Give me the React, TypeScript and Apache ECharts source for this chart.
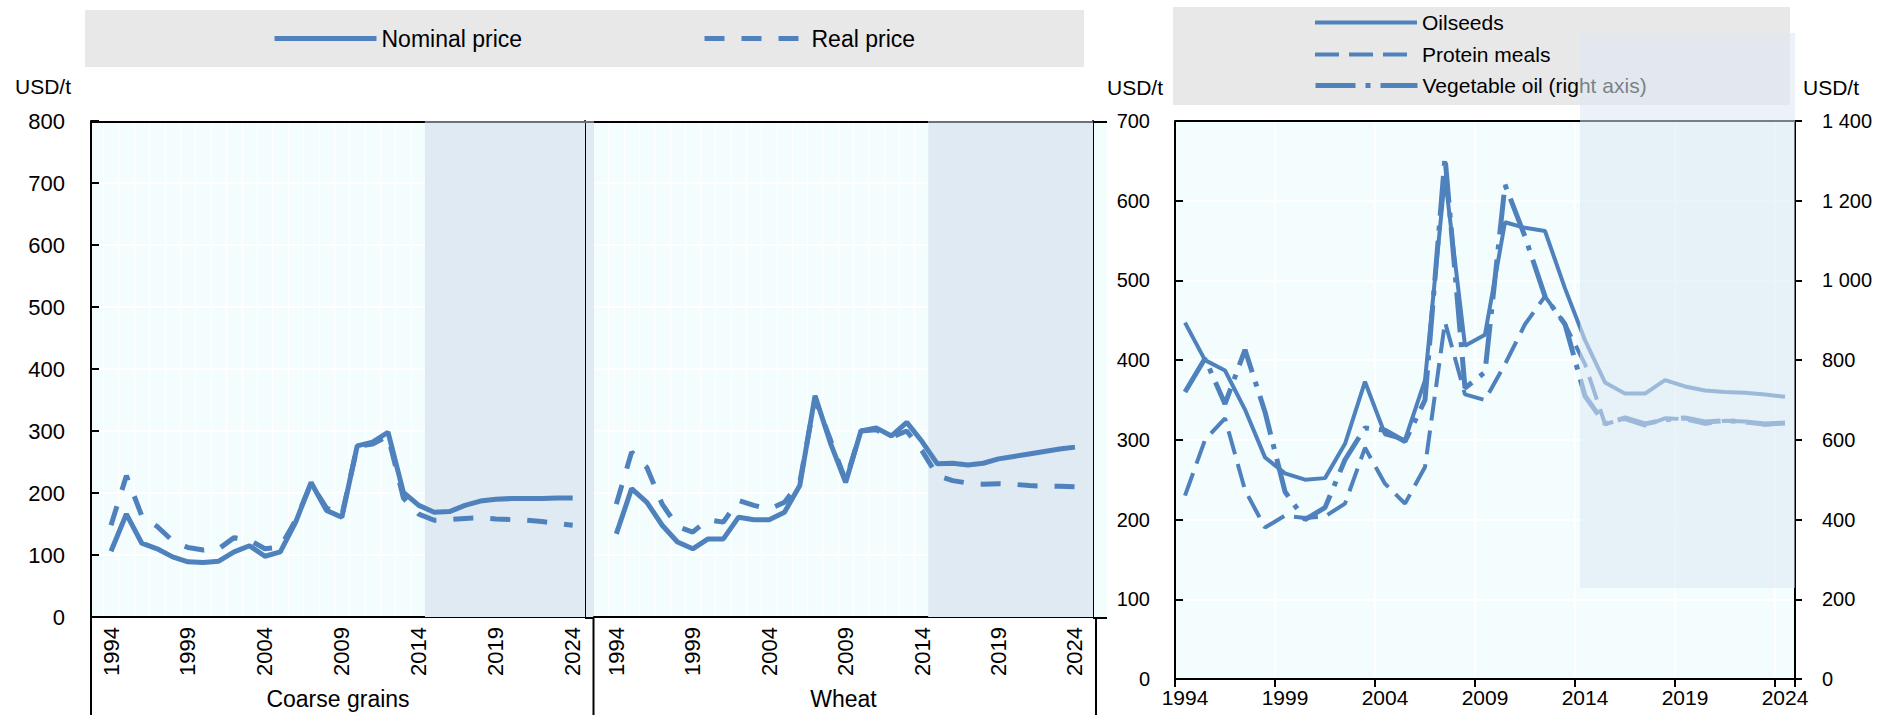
import React, { useEffect, useRef } from 'react';
import * as echarts from 'echarts';

const FONT = "'Liberation Sans', Arial, sans-serif";
const BLUE = '#4f81bd';
const PLOT_BG = '#f3fdfe';
const SHADE = '#dfeaf3';

const years = ['1994', '1995', '1996', '1997', '1998', '1999', '2000', '2001', '2002', '2003', '2004', '2005', '2006', '2007', '2008', '2009', '2010', '2011', '2012', '2013', '2014', '2015', '2016', '2017', '2018', '2019', '2020', '2021', '2022', '2023', '2024'];
const labelYears = [1994, 1999, 2004, 2009, 2014, 2019, 2024];
const projectionStart = 2014.4;
const coarseRange = [1992.7, 2024.8];
const wheatRange = [1992.54, 2025.18];

const coarseNominal = [106, 166, 119, 110, 97, 89, 88, 90, 105, 115, 98, 105, 153, 217, 172, 161, 276, 282, 298, 201, 180, 169, 170, 180, 187, 190, 191, 191, 191, 192, 192];
const coarseReal = [148, 228, 163, 146, 123, 112, 108, 110, 128, 124, 110, 113, 156, 215, 176, 164, 275, 279, 292, 192, 166, 156, 157, 159, 160, 158, 157, 156, 154, 151, 148];
const wheatNominal = [134, 207, 185, 148, 121, 110, 126, 126, 161, 157, 157, 169, 212, 357, 281, 217, 300, 305, 292, 314, 283, 247, 248, 245, 248, 255, 259, 263, 267, 271, 274];
const wheatReal = [182, 266, 241, 182, 146, 137, 157, 153, 188, 180, 174, 185, 217, 352, 286, 220, 300, 302, 290, 300, 268, 228, 220, 216, 214, 215, 214, 212, 211, 211, 210];

const oilseeds = [447, 400, 387, 338, 278, 258, 250, 252, 295, 373, 307, 300, 375, 630, 418, 432, 573, 566, 562, 490, 425, 372, 358, 358, 375, 367, 362, 360, 359, 357, 354];
const proteinMeals = [230, 300, 327, 237, 190, 205, 202, 204, 220, 290, 245, 220, 266, 448, 357, 350, 395, 445, 480, 445, 395, 320, 326, 318, 327, 326, 320, 324, 323, 319, 321];
const vegetableOil = [720, 804, 690, 826, 670, 470, 400, 430, 550, 630, 624, 596, 700, 1310, 730, 770, 1240, 1110, 960, 890, 710, 640, 655, 640, 650, 655, 645, 648, 645, 640, 642];

const pairs = (vals: number[]) => years.map((y, i) => [Number(y), vals[i]]);
const halfYears = years.map((y) => Number(y) - 0.5).concat([Number(years[years.length - 1]) + 0.5]);

const DASH_REAL = [20, 17];
const DASH_PROTEIN = [24, 10];
const DASH_VEG = [40, 10, 5, 10];

function leftXAxis(gridIndex: number, range: number[], name: string) {
  return {
    type: 'value',
    gridIndex,
    min: range[0],
    max: range[1],
    axisLine: { show: true, lineStyle: { color: '#000', width: 2 } },
    axisTick: { show: false, customValues: halfYears },
    splitLine: { show: true, lineStyle: { color: '#ffffff', width: 1 } },
    axisLabel: {
      customValues: labelYears,
      rotate: 90,
      margin: 10,
      fontSize: 22,
      color: '#000',
      fontFamily: FONT,
      formatter: (v: number) => String(v),
    },
    name,
    nameLocation: 'middle',
    nameGap: 70,
    nameTextStyle: { fontSize: 23, color: '#000', fontFamily: FONT },
  };
}

function legendItem(name: string, left: number, top: number, fontSize: number, lineWidth: number) {
  return {
    data: [name],
    left,
    top,
    padding: 0,
    itemWidth: 102,
    itemHeight: 14,
    itemStyle: { opacity: 0 },
    lineStyle: { width: lineWidth },
    selectedMode: false,
    textStyle: { fontSize, color: '#000', fontFamily: FONT },
  };
}

export default function App() {
  const ref = useRef<HTMLDivElement>(null);
  useEffect(() => {
    if (!ref.current) return;
    const chart = echarts.init(ref.current, null, { renderer: 'svg' });
    const shadeSeries = (xi: number, yi: number, end: number) => ({
      type: 'line',
      xAxisIndex: xi,
      yAxisIndex: yi,
      data: [],
      z: 1,
      silent: true,
      markArea: {
        silent: true,
        z: 1,
        itemStyle: { color: SHADE, opacity: 1 },
        data: [[{ xAxis: projectionStart }, { xAxis: end }]],
      },
    });
    const option: any = {
      animation: false,
      textStyle: { fontFamily: FONT },
      grid: [
        { left: 91, top: 121, width: 494, height: 497, show: true, backgroundColor: PLOT_BG, borderWidth: 0 },
        { left: 594, top: 121, width: 499, height: 497, show: true, backgroundColor: PLOT_BG, borderWidth: 0 },
        { left: 1175, top: 121, width: 620, height: 558, show: true, backgroundColor: PLOT_BG, borderWidth: 0 },
      ],
      legend: [
        legendItem('Nominal price', 272, 27, 23, 5),
        legendItem('Real price', 702, 27, 23, 5),
        legendItem('Oilseeds', 1313, 12, 21, 4),
        legendItem('Protein meals', 1313, 44, 21, 4),
        legendItem('Vegetable oil (right axis)', 1313, 75, 21, 5),
      ],
      xAxis: [
        leftXAxis(0, coarseRange, 'Coarse grains'),
        leftXAxis(1, wheatRange, 'Wheat'),
        {
          type: 'category',
          gridIndex: 2,
          data: years,
          boundaryGap: true,
          axisLine: { show: true, lineStyle: { color: '#000', width: 2 } },
          axisTick: { show: true, interval: 4, length: 8, lineStyle: { color: '#000', width: 2 } },
          splitLine: { show: true, interval: 4, lineStyle: { color: '#ffffff', width: 2 } },
          axisLabel: { interval: 4, margin: 8, fontSize: 21, color: '#000', fontFamily: FONT },
        },
      ],
      yAxis: [
        {
          type: 'value', gridIndex: 0, min: 0, max: 800, interval: 100,
          axisLine: { show: true, lineStyle: { color: '#000', width: 2 } },
          axisTick: { show: true, inside: true, length: 8, lineStyle: { color: '#000', width: 2 } },
          axisLabel: { margin: 26, fontSize: 22, color: '#000', fontFamily: FONT },
          splitLine: { show: true, lineStyle: { color: '#ffffff', width: 2 } },
        },
        {
          type: 'value', gridIndex: 0, position: 'right', min: 0, max: 800, interval: 100,
          axisLine: { show: true, lineStyle: { color: '#000', width: 2 } },
          axisTick: { show: false }, axisLabel: { show: false }, splitLine: { show: false },
        },
        {
          type: 'value', gridIndex: 1, min: 0, max: 800, interval: 100,
          axisLine: { show: false }, axisTick: { show: false }, axisLabel: { show: false },
          splitLine: { show: true, lineStyle: { color: '#ffffff', width: 2 } },
        },
        {
          type: 'value', gridIndex: 1, position: 'right', min: 0, max: 800, interval: 100,
          axisLine: { show: true, lineStyle: { color: '#000', width: 2 } },
          axisTick: { show: false }, axisLabel: { show: false }, splitLine: { show: false },
        },
        {
          type: 'value', gridIndex: 2, min: 0, max: 700, interval: 100,
          axisLine: { show: true, lineStyle: { color: '#000', width: 2 } },
          axisTick: { show: true, inside: true, length: 8, lineStyle: { color: '#000', width: 2 } },
          axisLabel: { margin: 25, fontSize: 20, color: '#000', fontFamily: FONT },
          splitLine: { show: true, lineStyle: { color: '#ffffff', width: 2 } },
        },
        {
          type: 'value', gridIndex: 2, position: 'right', min: 0, max: 1400, interval: 200,
          axisLine: { show: true, lineStyle: { color: '#000', width: 2 } },
          axisTick: { show: true, inside: false, length: 7, lineStyle: { color: '#000', width: 2 } },
          axisLabel: {
            margin: 27, fontSize: 20, color: '#000', fontFamily: FONT,
            formatter: (v: number) => String(v).replace(/(\d)(?=(\d{3})+$)/, '$1 '),
          },
          splitLine: { show: false },
        },
      ],
      series: [
        shadeSeries(0, 0, coarseRange[1]),
        shadeSeries(1, 2, wheatRange[1]),
        {
          name: 'Nominal price', type: 'line', xAxisIndex: 0, yAxisIndex: 0, data: pairs(coarseNominal),
          symbol: 'none', lineStyle: { color: BLUE, width: 5 }, itemStyle: { color: BLUE }, z: 5,
        },
        {
          name: 'Real price', type: 'line', xAxisIndex: 0, yAxisIndex: 0, data: pairs(coarseReal),
          symbol: 'none', lineStyle: { color: BLUE, width: 5, type: DASH_REAL }, itemStyle: { color: BLUE }, z: 5,
        },
        {
          name: 'Nominal price', type: 'line', xAxisIndex: 1, yAxisIndex: 2, data: pairs(wheatNominal),
          symbol: 'none', lineStyle: { color: BLUE, width: 5 }, itemStyle: { color: BLUE }, z: 5,
        },
        {
          name: 'Real price', type: 'line', xAxisIndex: 1, yAxisIndex: 2, data: pairs(wheatReal),
          symbol: 'none', lineStyle: { color: BLUE, width: 5, type: DASH_REAL }, itemStyle: { color: BLUE }, z: 5,
        },
        {
          name: 'Oilseeds', type: 'line', xAxisIndex: 2, yAxisIndex: 4, data: oilseeds,
          symbol: 'none', lineStyle: { color: BLUE, width: 4 }, itemStyle: { color: BLUE }, z: 5,
        },
        {
          name: 'Protein meals', type: 'line', xAxisIndex: 2, yAxisIndex: 4, data: proteinMeals,
          symbol: 'none', lineStyle: { color: BLUE, width: 4, type: DASH_PROTEIN }, itemStyle: { color: BLUE }, z: 5,
        },
        {
          name: 'Vegetable oil (right axis)', type: 'line', xAxisIndex: 2, yAxisIndex: 5, data: vegetableOil,
          symbol: 'none', lineStyle: { color: BLUE, width: 5, type: DASH_VEG }, itemStyle: { color: BLUE }, z: 5,
        },
      ],
    };
    chart.setOption(option);

    const px0 = chart.convertToPixel({ xAxisIndex: 0 }, projectionStart) as number;
    const px1 = chart.convertToPixel({ xAxisIndex: 1 }, projectionStart) as number;
    const line = (x1: number, y1: number, x2: number, y2: number, stroke: string, z = 5) => ({
      type: 'line', silent: true, z,
      shape: { x1, y1, x2, y2 },
      style: { stroke, lineWidth: 2 },
    });
    const text = (t: string, x: number, y: number, size: number) => ({
      type: 'text', silent: true, x, y,
      style: { text: t, fontSize: size, fontFamily: FONT, fill: '#000', verticalAlign: 'middle', align: 'left' },
    });
    chart.setOption({
      graphic: [
        { type: 'rect', silent: true, z: 0, shape: { x: 85, y: 10, width: 999, height: 57 }, style: { fill: '#e8e8e8' } },
        { type: 'rect', silent: true, z: 0, shape: { x: 1173, y: 7, width: 617, height: 98 }, style: { fill: '#e8e8e8' } },
        { type: 'rect', silent: true, z: 0, shape: { x: 585, y: 121, width: 9, height: 497 }, style: { fill: SHADE } },
        { type: 'rect', silent: true, z: 0, shape: { x: 1093, y: 121, width: 14, height: 497 }, style: { fill: PLOT_BG } },
        line(91, 122, px0, 122, '#000'),
        line(px0, 122, 594, 122, '#6c7177'),
        line(594, 122, px1, 122, '#000'),
        line(px1, 122, 1093, 122, '#6c7177'),
        line(1093, 122, 1107, 122, '#000'),
        line(585, 618, 594, 618, '#000'),
        line(1093, 618, 1107, 618, '#000'),
        line(91, 618, 91, 715, '#000'),
        line(593.5, 618, 593.5, 715, '#000'),
        line(1096, 618, 1096, 715, '#000'),
        line(1175, 121, 1795, 121, '#000'),
        text('USD/t', 15, 86, 21),
        text('USD/t', 1107, 87, 21),
        text('USD/t', 1803, 87, 21),
        { type: 'rect', silent: true, z: 100, shape: { x: 1580, y: 33, width: 215, height: 555 }, style: { fill: 'rgba(220, 232, 242, 0.55)' } },
      ],
    });
    return () => chart.dispose();
  }, []);
  return <div ref={ref} style={{ position: 'absolute', left: 0, top: 0, width: 1885, height: 715 }} />;
}
